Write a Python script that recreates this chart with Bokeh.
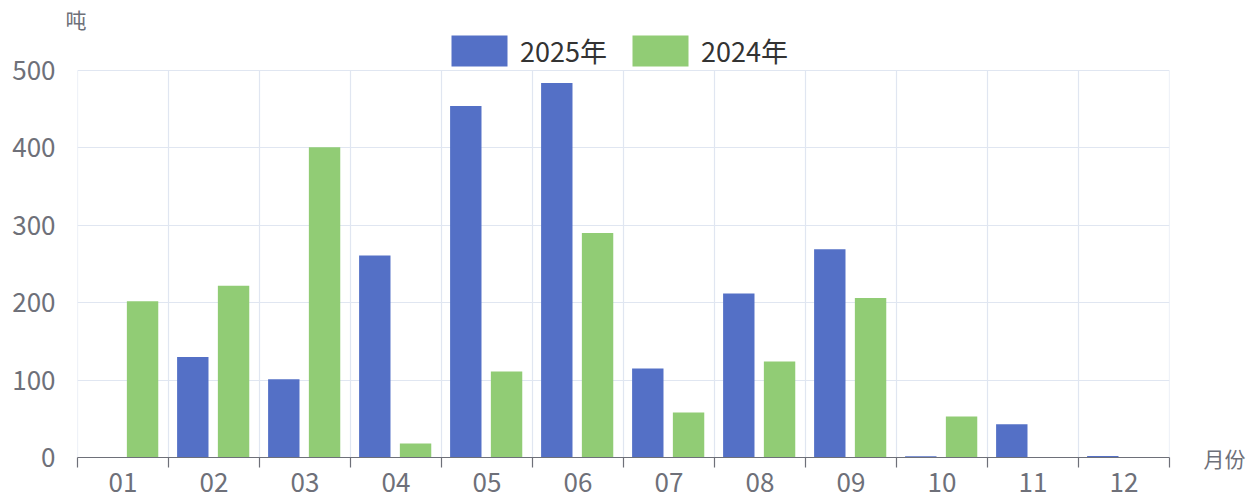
from bokeh.plotting import figure
from bokeh.models import (ColumnDataSource, FixedTicker, Legend, LegendItem, Range1d,
                          LinearAxis, Title)
from bokeh.embed import file_html
from bokeh.resources import INLINE
from bokeh.transform import dodge

months = ["01", "02", "03", "04", "05", "06", "07", "08", "09", "10", "11", "12"]
y2025 = [0, 130, 101, 261, 454, 484, 115, 212, 269, 1.5, 43, 2]
y2024 = [202, 222, 401, 18, 111, 290, 58, 124, 206, 53, 0, 0]
y_ticks = [0, 100, 200, 300, 400, 500]
series_names = ["2025年", "2024年"]
unit_y = "吨"
unit_x = "月份"

FONT = "Noto Sans CJK SC"
BLUE = "#5470c6"
GREEN = "#91cc75"
GRID = "#e0e6f1"
AXIS = "#6e7079"

# layout (pixels)
W, H = 1249, 497
FRAME_L, FRAME_R, FRAME_T, FRAME_B = 77, 1169, 31, 457
PX_PER_500 = 387.0          # height of the 0..500 band
y_top = max(y_ticks) * (FRAME_B - FRAME_T) / PX_PER_500

n = len(months)
centers = [i + 0.5 for i in range(n)]
bounds = list(range(n + 1))
src = ColumnDataSource(dict(x=centers, y2025=y2025, y2024=y2024))

p = figure(width=W, height=H, x_range=Range1d(0, n), y_range=Range1d(0, y_top),
           output_backend="svg", toolbar_location=None,
           min_border_left=FRAME_L, min_border_right=W - FRAME_R,
           min_border_top=FRAME_T, min_border_bottom=H - FRAME_B)
p.outline_line_color = None
p.background_fill_color = "white"

# vertical grid lines limited to the value band
p.xgrid.visible = False
p.segment(x0=bounds, y0=[0] * len(bounds), x1=bounds, y1=[max(y_ticks)] * len(bounds),
          line_color=GRID, line_width=1.2)

r1 = p.vbar(x=dodge("x", -0.233), top="y2025", width=0.345, source=src,
            fill_color=BLUE, line_color=None)
r2 = p.vbar(x=dodge("x", 0.215), top="y2024", width=0.345, source=src,
            fill_color=GREEN, line_color=None)

# x axis
xa = p.xaxis[0]
xa.ticker = FixedTicker(ticks=centers, minor_ticks=bounds)
xa.major_label_overrides = {c: m for c, m in zip(centers, months)}
xa.axis_line_color = AXIS
xa.axis_line_width = 1.2
xa.major_tick_out = 0
xa.major_tick_in = 0
xa.major_tick_line_color = None
xa.minor_tick_out = 10
xa.minor_tick_in = 0
xa.minor_tick_line_color = AXIS
xa.minor_tick_line_width = 1.2
xa.major_label_standoff = 5
xa.major_label_text_font = FONT
xa.major_label_text_font_size = "26px"
xa.major_label_text_color = AXIS

# y axis
ya = p.yaxis[0]
ya.ticker = FixedTicker(ticks=y_ticks)
ya.axis_line_color = None
ya.major_tick_line_color = None
ya.minor_tick_line_color = None
ya.major_tick_out = 0
ya.major_tick_in = 0
ya.major_label_standoff = 22
ya.major_label_text_font = FONT
ya.major_label_text_font_size = "26px"
ya.major_label_text_color = AXIS

p.ygrid.ticker = FixedTicker(ticks=y_ticks)
p.ygrid.grid_line_color = GRID
p.ygrid.grid_line_width = 1.2

# x-axis name on the right side
ra = LinearAxis(ticker=FixedTicker(ticks=[]), axis_label=unit_x,
                axis_line_color=None, major_tick_line_color=None,
                minor_tick_line_color=None, major_tick_out=0, major_tick_in=0,
                major_label_text_font_size="0px",
                axis_label_text_font=FONT, axis_label_text_font_size="21px",
                axis_label_text_color=AXIS, axis_label_text_font_style="normal",
                axis_label_standoff=34, axis_label_orientation="horizontal")
try:
    ra.axis_label_align = "start"
except Exception:
    pass
p.add_layout(ra, "right")

legend = Legend(items=[LegendItem(label=series_names[0], renderers=[r1]),
                       LegendItem(label=series_names[1], renderers=[r2])],
                location=(451 - 7 - FRAME_L, FRAME_B - 70), orientation="horizontal",
                glyph_width=70, glyph_height=39, label_standoff=6, spacing=18,
                padding=0, margin=0, border_line_color=None, background_fill_alpha=0,
                label_text_font=FONT, label_text_font_size="27px",
                label_text_color="#333333", label_height=31)
p.add_layout(legend, "center")

p.add_layout(Title(text=unit_y, text_font=FONT, text_font_size="21px", text_color=AXIS,
                   text_font_style="normal", align="left", offset=-12, standoff=-4),
             "above")

open("out.html", "w").write(file_html(p, INLINE))
